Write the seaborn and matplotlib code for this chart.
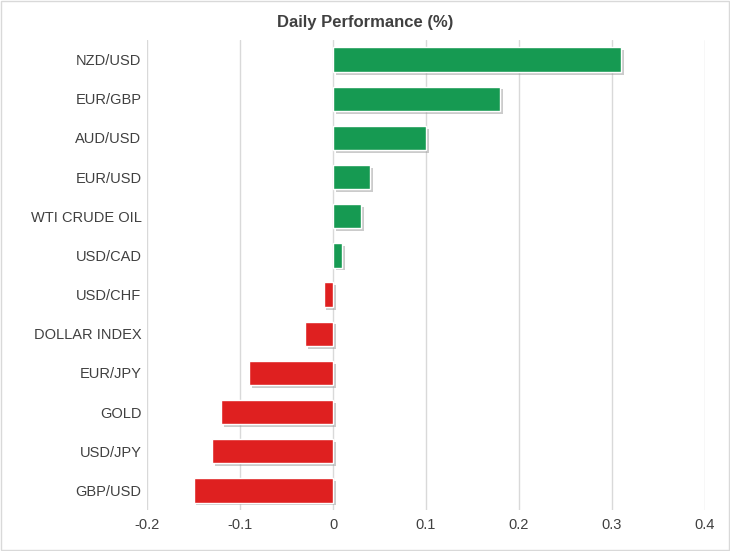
import matplotlib
matplotlib.use("Agg")
import matplotlib.pyplot as plt
import matplotlib.patheffects as pe
import seaborn as sns
import pandas as pd

# data
instruments = ["NZD/USD", "EUR/GBP", "AUD/USD", "EUR/USD", "WTI CRUDE OIL", "USD/CAD",
               "USD/CHF", "DOLLAR INDEX", "EUR/JPY", "GOLD", "USD/JPY", "GBP/USD"]
performance = [0.31, 0.18, 0.10, 0.04, 0.03, 0.01, -0.01, -0.03, -0.09, -0.12, -0.13, -0.15]
x_ticks = [-0.2, -0.1, 0, 0.1, 0.2, 0.3, 0.4]
x_tick_labels = ["-0.2", "-0.1", "0", "0.1", "0.2", "0.3", "0.4"]

df = pd.DataFrame({"instrument": instruments, "perf": performance})
colors = ["#00B050" if v >= 0 else "#FF0000" for v in performance]

sns.set_style("white")
plt.rcParams["font.family"] = ["Liberation Sans", "DejaVu Sans"]

fig = plt.figure(figsize=(7.3, 5.51), dpi=100)
ax = fig.add_axes([147 / 730, 41 / 551, 558 / 730, 470 / 551])

sns.barplot(data=df, x="perf", y="instrument", hue="instrument", palette=colors,
            legend=False, width=0.62, ax=ax, zorder=3)
for bar in ax.patches:
    bar.set_path_effects([pe.SimplePatchShadow(offset=(2, -2), shadow_rgbFace="#999999", alpha=0.5),
                          pe.Normal()])

ax.set_xlim(-0.2, 0.4)
ax.set_xticks(x_ticks)
ax.set_xticklabels(x_tick_labels)
ax.xaxis.grid(True, color="#D9D9D9", linewidth=1, zorder=0)
ax.set_axisbelow(True)
for s in ax.spines.values():
    s.set_visible(False)
ax.tick_params(axis="both", length=0, labelsize=10.5, colors="#404040", pad=6)
ax.tick_params(axis="y", pad=4)
ax.set_xlabel("")
ax.set_ylabel("")

fig.text(0.5, 1 - 22 / 551, "Daily Performance (%)", ha="center", va="center",
         fontsize=12, fontweight="bold", color="#404040")

border = plt.Rectangle((0.001, 0.001), 0.997, 0.997, transform=fig.transFigure,
                       fill=False, edgecolor="#D9D9D9", linewidth=1)
fig.patches.append(border)

fig.savefig("out.png", dpi=100)
